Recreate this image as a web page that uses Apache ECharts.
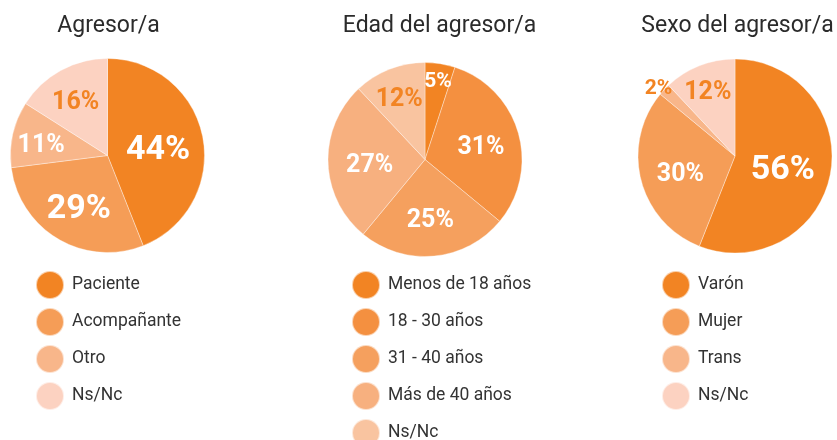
<!DOCTYPE html>
<html>
<head>
<meta charset="utf-8">
<script src="https://cdn.jsdelivr.net/npm/echarts@6/dist/echarts.min.js"></script>
<style>
html,body{margin:0;padding:0;background:#fff;}
#main{width:837px;height:440px;}
</style>
</head>
<body>
<div id="main"></div>
<script>
// ---- data ----
const titles = ['Agresor/a', 'Edad del agresor/a', 'Sexo del agresor/a'];

const agresorNames = ['Paciente', 'Acompañante', 'Otro', 'Ns/Nc'];
const agresorValues = [44, 29, 11, 16];

const edadNames = ['Menos de 18 años', '18 - 30 años', '31 - 40 años', 'Más de 40 años', 'Ns/Nc'];
const edadValues = [5, 31, 25, 27, 12];

const sexoNames = ['Varón', 'Mujer', 'Trans', 'Ns/Nc'];
const sexoValues = [56, 30, 2, 12];

// ---- styles ----
const ORANGE = '#F28423';
const FONT = 'Roboto';
const R = 97;

const charts = [
  {
    title: titles[0], names: agresorNames, values: agresorValues,
    center: [107.5, 155.5], titleX: 108.5, legendLeft: 35,
    colors: ['#F28423', '#F59D57', '#F8B68A', '#FCD2C1'],
    labelSize: [34, 34, 25, 25],
    labelColor: ['#fff', '#fff', '#fff', ORANGE],
    labelRadius: [0.5, 0.55, 0.67, 0.65]
  },
  {
    title: titles[1], names: edadNames, values: edadValues,
    center: [425, 159.5], titleX: 439.5, legendLeft: 351,
    colors: ['#F28423', '#F49040', '#F5A05E', '#F7B07F', '#F9C4A0'],
    labelSize: [21, 25, 25, 25, 25],
    labelColor: ['#fff', '#fff', '#fff', '#fff', ORANGE],
    labelRadius: [0.83, 0.57, 0.55, 0.54, 0.69]
  },
  {
    title: titles[2], names: sexoNames, values: sexoValues,
    center: [735, 156], titleX: 737.5, legendLeft: 661,
    colors: ['#F28423', '#F59D57', '#F8B68A', '#FCD2C1'],
    labelSize: [34, 25, 21, 25],
    labelColor: ['#fff', '#fff', ORANGE, ORANGE],
    labelRadius: [0.47, 0.55, 1.05, 0.73]
  }
];

const series = [];
const legend = [];
const title = [];

charts.forEach(function (c, ci) {
  title.push({
    text: c.title,
    left: c.titleX,
    textAlign: 'center',
    top: 15,
    padding: 0,
    textStyle: { fontFamily: FONT, fontSize: 23, fontWeight: 'normal', color: '#2b2b2b' }
  });

  // visible pie
  series.push({
    type: 'pie',
    name: c.title,
    center: c.center,
    radius: [0, R],
    startAngle: 90,
    clockwise: true,
    silent: true,
    label: { show: false },
    labelLine: { show: false },
    emphasis: { disabled: true },
    itemStyle: { borderColor: 'rgba(255,255,255,0.6)', borderWidth: 0.6 },
    data: c.names.map(function (n, i) {
      return { name: n, value: c.values[i], itemStyle: { color: c.colors[i] } };
    })
  });

  // transparent label rings
  const groups = Array.from(new Set(c.labelRadius));
  groups.forEach(function (m) {
    series.push({
      type: 'pie',
      name: c.title + ' labels ' + m,
      center: c.center,
      radius: [0, 2 * m * R],
      startAngle: 90,
      clockwise: true,
      silent: true,
      labelLine: { show: false },
      emphasis: { disabled: true },
      itemStyle: { color: 'rgba(0,0,0,0)', borderWidth: 0 },
      labelLayout: { dy: 5 },
      label: {
        show: true,
        position: 'inside',
        formatter: '{c}%',
        fontFamily: FONT,
        fontWeight: 'bold'
      },
      data: c.names.map(function (n, i) {
        return {
          name: n, value: c.values[i],
          itemStyle: { color: 'rgba(0,0,0,0)' },
          label: {
            show: c.labelRadius[i] === m,
            fontSize: c.labelSize[i],
            color: c.labelColor[i]
          }
        };
      })
    });
  });

  legend.push({
    type: 'plain',
    orient: 'vertical',
    left: c.legendLeft,
    top: 270,
    height: 220,
    padding: 0,
    itemWidth: 28,
    itemHeight: 28,
    itemGap: 7,
    icon: 'circle',
    selectedMode: false,
    textStyle: { fontFamily: FONT, fontSize: 17.5, color: '#333', padding: [0, 0, 0, 3] },
    data: c.names.map(function (n, i) {
      return { name: n, itemStyle: { color: c.colors[i] } };
    })
  });
});

const chart = echarts.init(document.getElementById('main'), null, { renderer: 'canvas' });
chart.setOption({
  animation: false,
  backgroundColor: '#fff',
  title: title,
  legend: legend,
  tooltip: { show: false },
  series: series
});
</script>
</body>
</html>
